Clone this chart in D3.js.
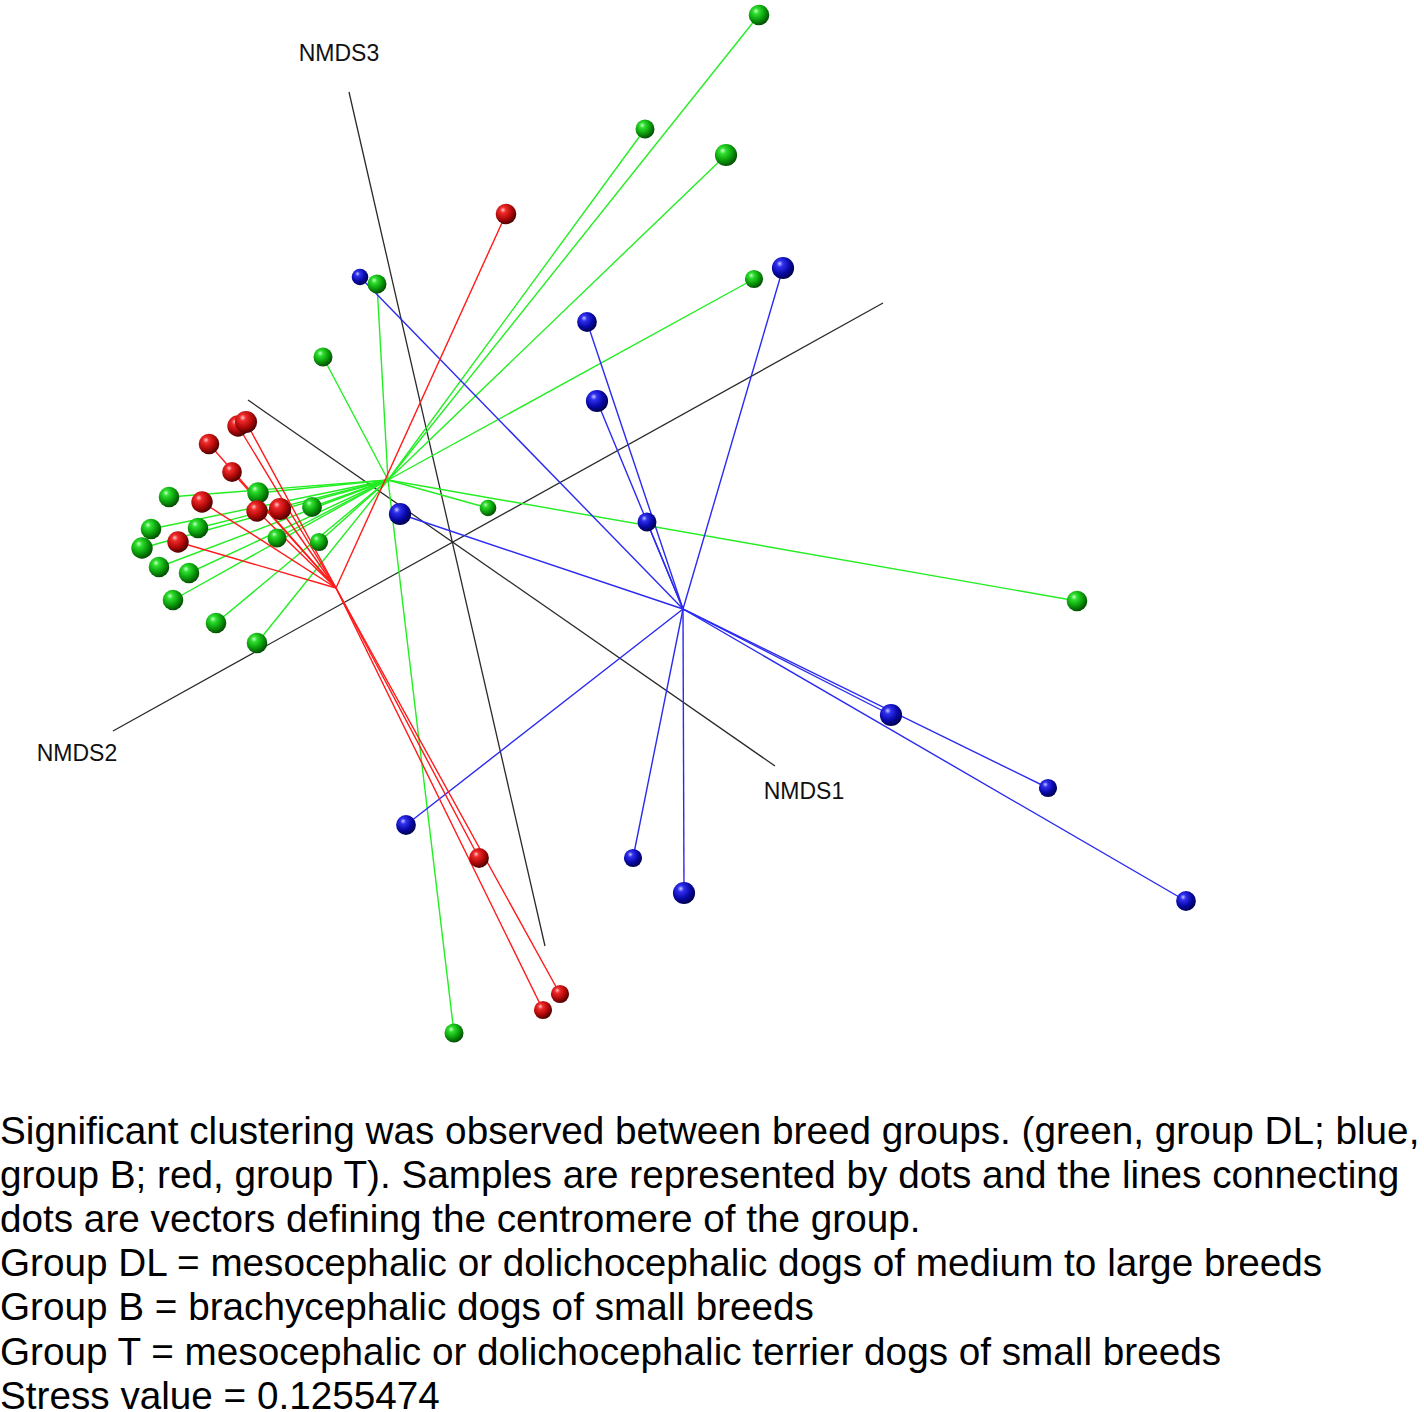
<!DOCTYPE html>
<html>
<head>
<meta charset="utf-8">
<script src="https://cdn.jsdelivr.net/npm/d3@7"></script>
<style>
  body { margin: 0; background: #fff; }
  svg { display: block; }
</style>
</head>
<body>
<svg id="chart" width="1424" height="1412"></svg>
<script>
// projected NMDS coordinates (screen plane of the 3d view) + depth
var groups = ["DL", "B", "T"];
var groupLine = {DL: "#22ee22", B: "#2a2af0", T: "#ff1a1a"};

var centroids = [
  {group: "DL", x: 388, y: 480},
  {group: "B", x: 683, y: 609},
  {group: "T", x: 336, y: 588}
];

var dlX = [759, 645, 726, 754, 377, 323, 1077, 488, 454, 169, 258, 312, 151, 198, 142, 277, 319, 159, 189, 173, 216, 257];
var dlY = [15, 129, 155, 279, 284, 357, 601, 508, 1033, 497, 493, 507, 529, 528, 548, 538, 542, 567, 573, 600, 623, 643];
var dlZ = [0.7, 0.5, 0.9, 0.4, 0.5, 0.5, 0.7, 0.2, 0.5, 0.7, 0.8, 0.6, 0.7, 0.7, 0.8, 0.5, 0.4, 0.7, 0.7, 0.7, 0.7, 0.7];

var bX = [360, 587, 597, 783, 400, 647, 891, 1048, 1186, 406, 633, 684];
var bY = [277, 322, 401, 268, 514, 522, 715, 788, 901, 825, 858, 893];
var bZ = [0.2, 0.6, 0.9, 0.9, 0.9, 0.5, 0.9, 0.4, 0.6, 0.6, 0.4, 0.9];

var tX = [506, 238, 246, 209, 232, 202, 257, 280, 178, 479, 560, 543];
var tY = [214, 426, 422, 444, 472, 502, 511, 509, 542, 858, 994, 1010];
var tZ = [0.7, 0.8, 0.9, 0.7, 0.6, 0.8, 0.8, 0.9, 0.8, 0.6, 0.4, 0.4];

// NMDS axes (projected end points)
var axisNames = ["NMDS1", "NMDS2", "NMDS3"];
var axisFrom = [[248, 400], [883, 303], [349, 92]];
var axisTo = [[775, 766], [113, 731], [545, 946]];
var axisLabelAt = [[804, 791], [77, 753], [339, 53]];

var captionLines = [
  "Significant clustering was observed between breed groups. (green, group DL; blue,",
  "group B; red, group T). Samples are represented by dots and the lines connecting",
  "dots are vectors defining the centromere of the group.",
  "Group DL = mesocephalic or dolichocephalic dogs of medium to large breeds",
  "Group B = brachycephalic dogs of small breeds",
  "Group T = mesocephalic or dolichocephalic terrier dogs of small breeds",
  "Stress value = 0.1255474"
];

function build(g, xs, ys, zs) {
  return xs.map(function(x, i) { return {group: g, x: x, y: ys[i], z: zs[i]}; });
}
var samples = build("DL", dlX, dlY, dlZ)
  .concat(build("B", bX, bY, bZ))
  .concat(build("T", tX, tY, tZ));

var svg = d3.select("#chart");
var W = +svg.attr("width");

var x = d3.scaleLinear().domain([0, 1424]).range([0, W]);
var y = d3.scaleLinear().domain([0, 1412]).range([0, 1412]);
var r = d3.scaleLinear().domain([0, 1]).range([7.5, 11.5]);

var defs = svg.append("defs");
var shades = {
  DL: ["#c8ffc8", "#2ee02e", "#0a9a0a", "#045004"],
  B: ["#c8c8ff", "#3030f0", "#0808a8", "#020250"],
  T: ["#ffc8c8", "#f02a2a", "#b00808", "#500202"]
};
groups.forEach(function(g) {
  var grad = defs.append("radialGradient")
    .attr("id", "sph-" + g)
    .attr("cx", "38%").attr("cy", "35%").attr("r", "65%")
    .attr("fx", "35%").attr("fy", "30%");
  grad.append("stop").attr("offset", "0%").attr("stop-color", shades[g][0]);
  grad.append("stop").attr("offset", "22%").attr("stop-color", shades[g][1]);
  grad.append("stop").attr("offset", "65%").attr("stop-color", shades[g][2]);
  grad.append("stop").attr("offset", "100%").attr("stop-color", shades[g][3]);
});

// axes
svg.append("g").selectAll("line")
  .data(axisNames)
  .enter().append("line")
  .attr("x1", function(d, i) { return x(axisFrom[i][0]); })
  .attr("y1", function(d, i) { return y(axisFrom[i][1]); })
  .attr("x2", function(d, i) { return x(axisTo[i][0]); })
  .attr("y2", function(d, i) { return y(axisTo[i][1]); })
  .attr("stroke", "#2a2a2a")
  .attr("stroke-width", 1.3);

svg.append("g").selectAll("text")
  .data(axisNames)
  .enter().append("text")
  .attr("x", function(d, i) { return x(axisLabelAt[i][0]); })
  .attr("y", function(d, i) { return y(axisLabelAt[i][1]); })
  .attr("text-anchor", "middle")
  .attr("dominant-baseline", "central")
  .attr("font-family", "Liberation Sans, Arial, sans-serif")
  .attr("font-size", 23)
  .attr("fill", "#111")
  .text(function(d) { return d; });

// spokes from centroid to sample
var cent = {};
centroids.forEach(function(c) { cent[c.group] = c; });

svg.append("g").selectAll("line")
  .data(samples)
  .enter().append("line")
  .attr("x1", function(d) { return x(cent[d.group].x); })
  .attr("y1", function(d) { return y(cent[d.group].y); })
  .attr("x2", function(d) { return x(d.x); })
  .attr("y2", function(d) { return y(d.y); })
  .attr("stroke", function(d) { return groupLine[d.group]; })
  .attr("stroke-width", 1.4);

// spheres, far ones first
var sorted = samples.slice().sort(function(a, b) { return a.z - b.z; });
svg.append("g").selectAll("circle")
  .data(sorted)
  .enter().append("circle")
  .attr("cx", function(d) { return x(d.x); })
  .attr("cy", function(d) { return y(d.y); })
  .attr("r", function(d) { return r(d.z); })
  .attr("fill", function(d) { return "url(#sph-" + d.group + ")"; });

// caption
svg.append("g").selectAll("text")
  .data(captionLines)
  .enter().append("text")
  .attr("x", 0)
  .attr("y", function(d, i) { return 1144 + i * 44.1; })
  .attr("font-family", "Liberation Sans, Arial, sans-serif")
  .attr("font-size", 38.7)
  .attr("fill", "#000")
  .text(function(d) { return d; });
</script>
</body>
</html>
